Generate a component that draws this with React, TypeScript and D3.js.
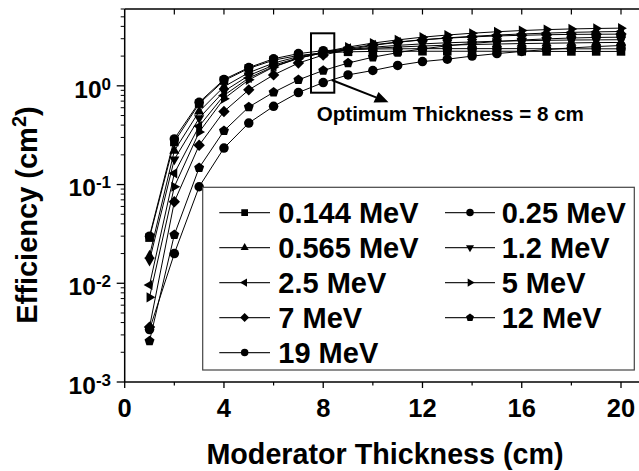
import React from "react";
import * as d3 from "d3";

const thickness = [1, 2, 3, 4, 5, 6, 7, 8, 9, 10, 11, 12, 13, 14, 15, 16, 17, 18, 19, 20];
const seriesNames = ["0.144 MeV", "0.25 MeV", "0.565 MeV", "1.2 MeV", "2.5 MeV", "5 MeV", "7 MeV", "12 MeV", "19 MeV"];
const markerTypes = ["square", "circle", "triUp", "triDown", "triLeft", "triRight", "diamond", "pentagon", "circle"];

const eff0144 = [0.029, 0.27, 0.66, 1.13, 1.5, 1.82, 2.03, 2.15, 2.21, 2.23, 2.24, 2.24, 2.24, 2.24, 2.24, 2.24, 2.23, 2.23, 2.23, 2.23];
const eff025 = [0.03, 0.29, 0.68, 1.16, 1.53, 1.88, 2.12, 2.27, 2.33, 2.36, 2.37, 2.38, 2.38, 2.38, 2.38, 2.38, 2.37, 2.37, 2.37, 2.37];
const eff0565 = [0.019, 0.22, 0.55, 0.98, 1.36, 1.7, 1.98, 2.17, 2.3, 2.4, 2.47, 2.53, 2.58, 2.62, 2.65, 2.68, 2.7, 2.72, 2.74, 2.75];
const eff12 = [0.017, 0.18, 0.47, 0.88, 1.27, 1.62, 1.92, 2.15, 2.32, 2.46, 2.57, 2.66, 2.73, 2.78, 2.83, 2.86, 2.89, 2.91, 2.92, 2.93];
const eff25 = [0.0096, 0.13, 0.39, 0.8, 1.2, 1.57, 1.9, 2.17, 2.4, 2.6, 2.78, 2.93, 3.06, 3.17, 3.27, 3.35, 3.42, 3.48, 3.52, 3.55];
const eff5 = [0.0072, 0.095, 0.34, 0.74, 1.15, 1.55, 1.9, 2.2, 2.47, 2.71, 2.92, 3.11, 3.27, 3.41, 3.53, 3.63, 3.71, 3.77, 3.81, 3.84];
const eff7 = [0.0036, 0.067, 0.25, 0.55, 0.91, 1.29, 1.7, 2.05, 2.33, 2.57, 2.76, 2.92, 3.04, 3.13, 3.2, 3.25, 3.29, 3.32, 3.33, 3.34];
const eff12MeV = [0.0026, 0.031, 0.148, 0.35, 0.61, 0.86, 1.15, 1.43, 1.7, 1.95, 2.17, 2.37, 2.54, 2.69, 2.81, 2.91, 2.99, 3.05, 3.09, 3.11];
const eff19 = [0.0034, 0.02, 0.095, 0.234, 0.42, 0.62, 0.855, 1.08, 1.29, 1.43, 1.61, 1.76, 1.86, 2.0, 2.12, 2.23, 2.33, 2.42, 2.5, 2.56];

const seriesValues = [eff0144, eff025, eff0565, eff12, eff25, eff5, eff7, eff12MeV, eff19];

const xMajorTicks = [0, 4, 8, 12, 16, 20];
const xMinorTicks = [2, 6, 10, 14, 18];
const xTopTicks = [2, 4, 6, 8, 10, 12, 14, 16, 18, 20];
const yExponents = [-3, -2, -1, 0];

const FONT = "'Liberation Sans', Arial, Helvetica, sans-serif";

function markerPath(type: string, s: number): string {
  const tri = (angle: number) => {
    const r = s * 0.62;
    const pts = [0, 1, 2].map((i) => {
      const a = angle + (i * 2 * Math.PI) / 3;
      return [r * Math.cos(a), r * Math.sin(a)];
    });
    return "M" + pts.map((p) => p[0].toFixed(2) + "," + p[1].toFixed(2)).join("L") + "Z";
  };
  switch (type) {
    case "square": {
      const h = s * 0.45;
      return `M${-h},${-h}L${h},${-h}L${h},${h}L${-h},${h}Z`;
    }
    case "circle": {
      const r = s * 0.5;
      return `M${r},0A${r},${r},0,1,1,${-r},0A${r},${r},0,1,1,${r},0Z`;
    }
    case "triUp":
      return tri(-Math.PI / 2);
    case "triDown":
      return tri(Math.PI / 2);
    case "triLeft":
      return tri(Math.PI);
    case "triRight":
      return tri(0);
    case "diamond": {
      const h = s * 0.6;
      return `M0,${-h}L${h},0L0,${h}L${-h},0Z`;
    }
    case "pentagon": {
      const r = s * 0.55;
      const pts = d3.range(5).map((i) => {
        const a = -Math.PI / 2 + (i * 2 * Math.PI) / 5;
        return [r * Math.cos(a), r * Math.sin(a)];
      });
      return "M" + pts.map((p) => p[0].toFixed(2) + "," + p[1].toFixed(2)).join("L") + "Z";
    }
  }
  return "";
}

export default function App() {
  const W = 639;
  const H = 471;
  const x = d3.scaleLinear().domain([0, 20]).range([124.7, 621]);
  const y = d3.scaleLog().domain([1e-3, 6]).range([382, 9]);
  const line = d3
    .line<number>()
    .x((_, i) => x(thickness[i]))
    .y((d) => y(d));

  const yMinor: number[] = [];
  yExponents.forEach((e) => {
    for (let k = 2; k <= 9; k++) {
      const v = k * Math.pow(10, e);
      if (v <= 6) yMinor.push(v);
    }
  });

  const left = x(0);
  const bottom = y(1e-3);
  const top = y(6);

  const legendRows = [
    [0, 1],
    [2, 3],
    [4, 5],
    [6, 7],
    [8],
  ];

  return (
    <svg
      width={W}
      height={H}
      style={{ position: "absolute", left: 0, top: 0, background: "#fff" }}
      fontFamily={FONT}
      fontWeight="bold"
    >
      <rect x={0} y={0} width={W} height={H} fill="#fff" />
      {/* series lines */}
      {seriesValues.map((vals, si) => (
        <path key={"l" + si} d={line(vals) || ""} fill="none" stroke="#000" strokeWidth={1} />
      ))}
      {/* markers */}
      {seriesValues.map((vals, si) =>
        vals.map((v, i) => (
          <path
            key={"m" + si + "-" + i}
            d={markerPath(markerTypes[si], 9.5)}
            transform={`translate(${x(thickness[i])},${y(v)})`}
            fill="#000"
          />
        ))
      )}

      {/* axes */}
      <line x1={left} x2={W + 2} y1={bottom} y2={bottom} stroke="#000" strokeWidth={1.5} />
      <line x1={left} x2={W + 2} y1={top} y2={top} stroke="#000" strokeWidth={1.5} />
      <line x1={left} x2={left} y1={top} y2={bottom} stroke="#000" strokeWidth={1.5} />

      {xMajorTicks.map((t) => (
        <g key={"xt" + t}>
          <line x1={x(t)} x2={x(t)} y1={bottom} y2={bottom + 6} stroke="#000" strokeWidth={1.3} />
          <text x={x(t)} y={416.5} fontSize={25.5} textAnchor="middle">
            {t}
          </text>
        </g>
      ))}
      {xMinorTicks.map((t) => (
        <line key={"xm" + t} x1={x(t)} x2={x(t)} y1={bottom} y2={bottom + 3.5} stroke="#000" strokeWidth={1.2} />
      ))}
      {xTopTicks.map((t) => (
        <line key={"xtt" + t} x1={x(t)} x2={x(t)} y1={top} y2={top + 5.5} stroke="#000" strokeWidth={1.2} />
      ))}

      {yExponents.map((e) => (
        <g key={"ye" + e}>
          <line x1={left - 8} x2={left} y1={y(Math.pow(10, e))} y2={y(Math.pow(10, e))} stroke="#000" strokeWidth={1.3} />
          <text x={111} y={y(Math.pow(10, e)) + 11.7} fontSize={24.5} textAnchor="end">
            <tspan>10</tspan>
            <tspan fontSize={17} dy={-8}>
              {e}
            </tspan>
          </text>
        </g>
      ))}
      {yMinor.map((v, i) => (
        <line key={"ym" + i} x1={left - 4} x2={left} y1={y(v)} y2={y(v)} stroke="#000" strokeWidth={1} />
      ))}

      {/* axis titles */}
      <text x={385} y={464} fontSize={28.7} textAnchor="middle">
        Moderator Thickness (cm)
      </text>
      <text transform="translate(37,215) rotate(-90)" fontSize={29} textAnchor="middle">
        <tspan>Efficiency (cm</tspan>
        <tspan fontSize={20} dy={-11}>2</tspan>
        <tspan dy={11}>)</tspan>
      </text>

      {/* annotation */}
      <rect x={311} y={33.3} width={23.3} height={59.4} fill="none" stroke="#000" strokeWidth={2} />
      <line x1={331.7} y1={80} x2={376} y2={97.4} stroke="#000" strokeWidth={2} />
      <path d="M388.5,102.2L373.5,102.5L378.5,92Z" fill="#000" />
      <text x={316.7} y={120.7} fontSize={20.6}>
        Optimum Thickness = 8 cm
      </text>

      {/* legend */}
      <rect x={202.7} y={187.3} width={431.6} height={182.7} fill="#fff" stroke="#444" strokeWidth={1.2} />
      {legendRows.map((row, ri) =>
        row.map((si, ci) => {
          const ly = 223 + ri * 35;
          const cy = ly - 10.4;
          const lx0 = ci === 0 ? 219.3 : 445;
          const lx1 = ci === 0 ? 270 : 495;
          const mx = (lx0 + lx1) / 2;
          const tx = ci === 0 ? 278.3 : 501.7;
          return (
            <g key={"lg" + si}>
              <line x1={lx0} x2={lx1} y1={cy} y2={cy} stroke="#222" strokeWidth={1.2} />
              <path d={markerPath(markerTypes[si], 7.5)} transform={`translate(${mx},${cy})`} fill="#000" />
              <text x={tx} y={ly} fontSize={29}>
                {seriesNames[si]}
              </text>
            </g>
          );
        })
      )}
    </svg>
  );
}
